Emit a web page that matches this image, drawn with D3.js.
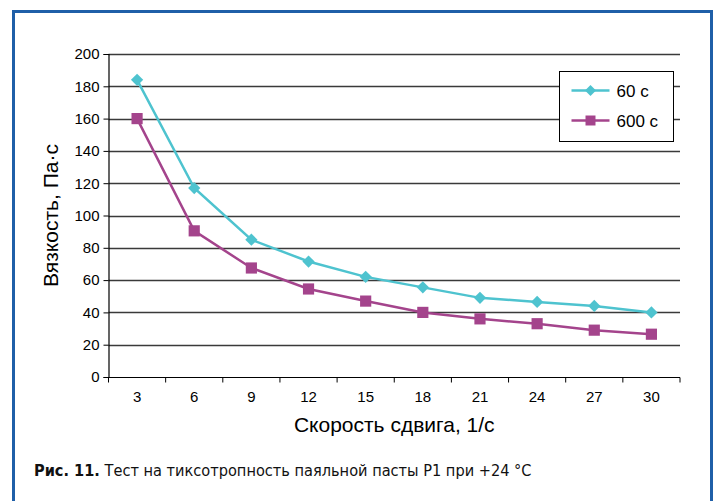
<!DOCTYPE html>
<html>
<head>
<meta charset="utf-8">
<script src="https://cdn.jsdelivr.net/npm/d3@7"></script>
<style>
  body { margin: 0; background: #fff; }
  svg { display: block; }
</style>
</head>
<body>
<div id="chart"></div>
<script>
// shear rate categories and viscosity values
const rates = ['3', '6', '9', '12', '15', '18', '21', '24', '27', '30'];
const visc60 = [184, 117, 85, 71.5, 62, 55.5, 49, 46.5, 44, 40];
const visc600 = [160, 90.5, 67.5, 54.5, 47, 40, 36, 33, 29, 26.5];
const yTicks = [0, 20, 40, 60, 80, 100, 120, 140, 160, 180, 200];

const width = 716, height = 501;
const svg = d3.select('#chart').append('svg')
  .attr('width', width).attr('height', height);

// blue frame (open at the bottom)
svg.append('path')
  .attr('d', 'M13.5,501 V11.5 H711.5 V501')
  .attr('fill', 'none')
  .attr('stroke', '#1f5fa8')
  .attr('stroke-width', 3);

const plotLeft = 108.5, plotRight = 680, plotTop = 54, plotBottom = 377;

const x = d3.scaleBand().domain(rates).range([plotLeft, plotRight]);
const y = d3.scaleLinear().domain([0, 200]).range([plotBottom, plotTop]);

// horizontal grid
svg.append('g')
  .selectAll('line')
  .data(yTicks.slice(1))
  .enter()
  .append('line')
  .attr('x1', plotLeft).attr('x2', plotRight)
  .attr('y1', d => Math.round(y(d)) + 0.5)
  .attr('y2', d => Math.round(y(d)) + 0.5)
  .attr('stroke', '#3a3a3a')
  .attr('stroke-width', 1.5);

// y axis
const yAxis = svg.append('g')
  .attr('transform', `translate(${plotLeft},0)`)
  .call(d3.axisLeft(y).tickValues(yTicks).tickSize(5).tickPadding(4));
yAxis.select('.domain').attr('stroke', '#000').attr('stroke-width', 1.2);
yAxis.selectAll('.tick line').attr('stroke', '#000');
yAxis.selectAll('text')
  .attr('font-family', '"Liberation Sans", Arial, sans-serif')
  .attr('font-size', 15).attr('fill', '#000');

// x axis: ticks on the band boundaries
const xAxis = svg.append('g')
  .attr('transform', `translate(0,${plotBottom + 0.5})`);
xAxis.append('line')
  .attr('x1', plotLeft).attr('x2', plotRight)
  .attr('stroke', '#000').attr('stroke-width', 1.2);
const bounds = rates.map(r => x(r)).concat([plotRight]);
xAxis.selectAll('.bt')
  .data(bounds)
  .enter()
  .append('line')
  .attr('x1', d => d).attr('x2', d => d)
  .attr('y1', 0).attr('y2', 5)
  .attr('stroke', '#000');
xAxis.selectAll('text')
  .data(rates)
  .enter()
  .append('text')
  .attr('x', d => x(d) + x.bandwidth() / 2)
  .attr('y', 24)
  .attr('text-anchor', 'middle')
  .attr('font-family', '"Liberation Sans", Arial, sans-serif')
  .attr('font-size', 15)
  .text(d => d);

// axis titles
svg.append('text')
  .attr('transform', `translate(58,${(plotTop + plotBottom) / 2}) rotate(-90)`)
  .attr('text-anchor', 'middle')
  .attr('font-family', '"Liberation Sans", Arial, sans-serif')
  .attr('font-size', 21)
  .text('Вязкость, Па·с');

svg.append('text')
  .attr('x', (plotLeft + plotRight) / 2)
  .attr('y', 432)
  .attr('text-anchor', 'middle')
  .attr('font-family', '"Liberation Sans", Arial, sans-serif')
  .attr('font-size', 21)
  .text('Скорость сдвига, 1/с');

// series (diamond = square turned 45 degrees)
const series = [
  { name: '60 c', values: visc60, color: '#4ec3cf', rot: 45, size: 75 },
  { name: '600 c', values: visc600, color: '#a4448c', rot: 0, size: 125 }
];

const line = d3.line()
  .x((d, i) => x(rates[i]) + x.bandwidth() / 2)
  .y(d => y(d));

series.forEach(s => {
  svg.append('path')
    .datum(s.values)
    .attr('d', line)
    .attr('fill', 'none')
    .attr('stroke', s.color)
    .attr('stroke-width', 2.5);
  svg.append('g')
    .selectAll('path')
    .data(s.values)
    .enter()
    .append('path')
    .attr('transform', (d, i) => `translate(${x(rates[i]) + x.bandwidth() / 2},${y(d)}) rotate(${s.rot})`)
    .attr('d', d3.symbol().type(d3.symbolSquare).size(s.size))
    .attr('fill', s.color);
});

// legend
const legend = svg.append('g').attr('transform', 'translate(559.5,71.5)');
legend.append('rect')
  .attr('width', 114).attr('height', 70)
  .attr('fill', '#fff').attr('stroke', '#000').attr('stroke-width', 1);
series.forEach((s, i) => {
  const ly = 19 + i * 30;
  legend.append('line')
    .attr('x1', 12).attr('x2', 50)
    .attr('y1', ly).attr('y2', ly)
    .attr('stroke', s.color).attr('stroke-width', 2.5);
  legend.append('path')
    .attr('transform', `translate(31,${ly}) rotate(${s.rot})`)
    .attr('d', d3.symbol().type(d3.symbolSquare).size(s.size * 0.8))
    .attr('fill', s.color);
  legend.append('text')
    .attr('x', 57).attr('y', ly + 6)
    .attr('font-family', '"Liberation Sans", Arial, sans-serif')
    .attr('font-size', 17)
    .text(s.name);
});

// caption
const cap = svg.append('text')
  .attr('x', 34).attr('y', 476)
  .attr('font-family', '"DejaVu Sans Condensed", "DejaVu Sans", sans-serif')
  .attr('font-size', 16.2)
  .attr('fill', '#111');
cap.append('tspan').attr('font-weight', 'bold').text('Рис. 11.');
cap.append('tspan').text(' Тест на тиксотропность паяльной пасты P1 при +24 °C');
</script>
</body>
</html>
